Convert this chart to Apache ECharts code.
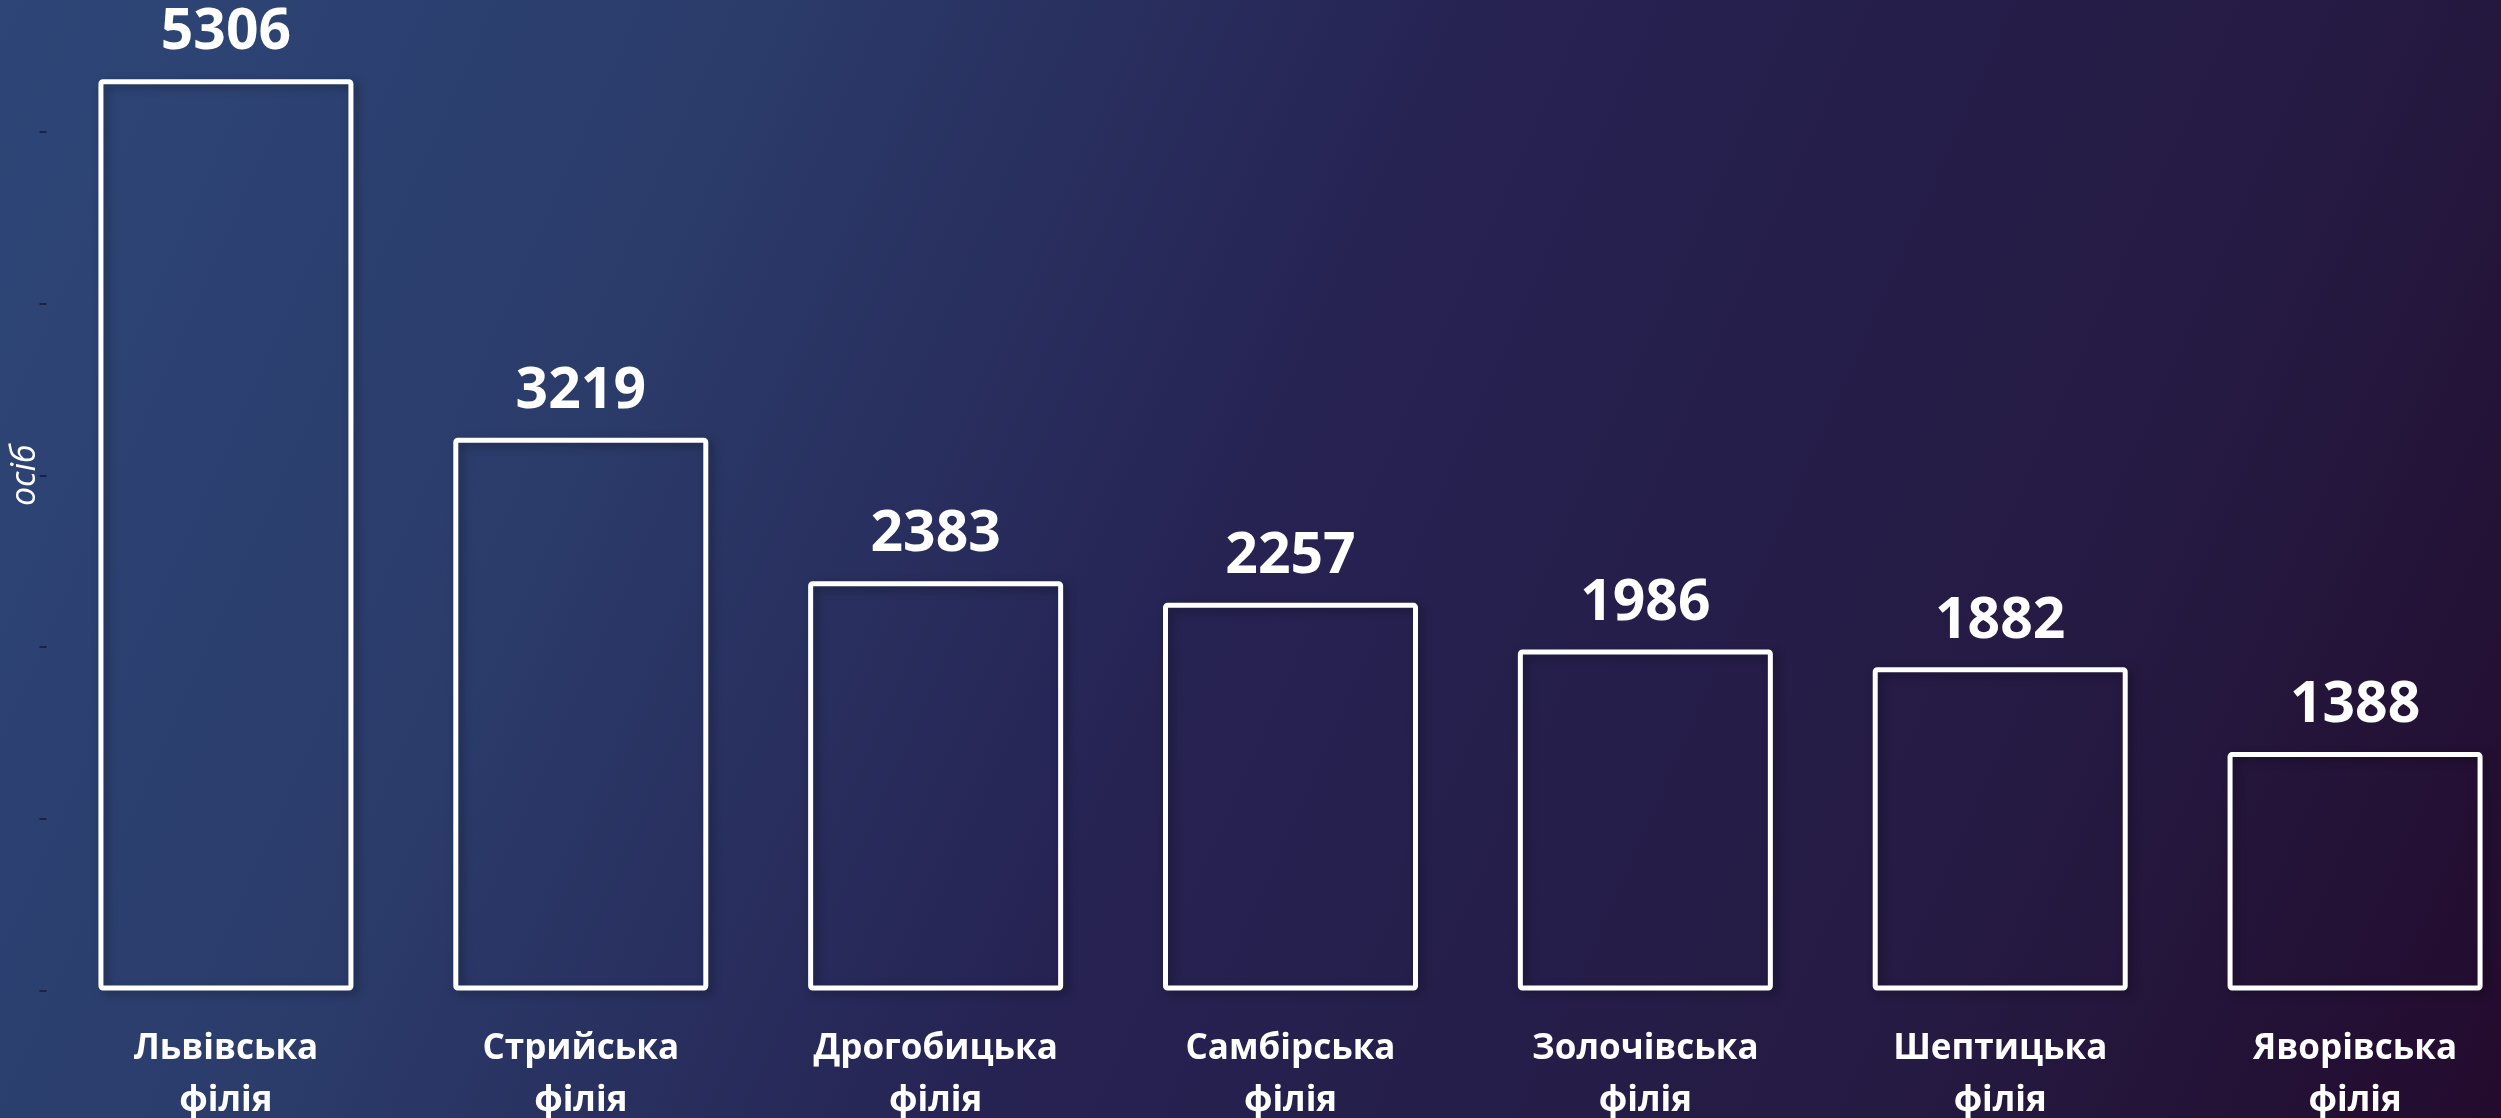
<!DOCTYPE html>
<html>
<head>
<meta charset="utf-8">
<title>Філії</title>
<script src="https://cdn.jsdelivr.net/npm/echarts@6/dist/echarts.min.js"></script>
<style>
    html, body { margin: 0; padding: 0; background: #2a3566; }
    #main { width: 2501px; height: 1118px; }
</style>
</head>
<body>
<div id="main"></div>
<script>
// категорії та значення (осіб)
var categories = [
    "Львівська\nфілія",
    "Стрийська\nфілія",
    "Дрогобицька\nфілія",
    "Самбірська\nфілія",
    "Золочівська\nфілія",
    "Шептицька\nфілія",
    "Яворівська\nфілія"
];
var values = [5306, 3219, 2383, 2257, 1986, 1882, 1388];
var yMin = 0;
var yMax = 6000;
var yStep = 1000;
var yName = "осіб";

var mychart = echarts.init(document.getElementById("main"));

var option = {
    backgroundColor: new echarts.graphic.LinearGradient(0, 0, 1, 1, [
        { offset: 0, color: "#2d4677" },
        { offset: 0.25, color: "#2b3c6b" },
        { offset: 0.5, color: "#262252" },
        { offset: 0.8, color: "#251a42" },
        { offset: 1, color: "#230b2d" }
    ]),
    animation: false,
    grid: {
        left: 48.5,
        width: 2484,
        top: -40,
        bottom: 127.5,
        containLabel: false,
        outerBoundsMode: "none" // v6 otherwise shrinks the grid
    },
    xAxis: {
        type: "category",
        data: categories,
        axisLine: { show: false },
        axisTick: { show: false },
        axisLabel: {
            interval: 0,
            margin: 33,
            color: "#fff",
            fontFamily: "Open Sans",
            fontWeight: "bold",
            fontSize: 35,
            lineHeight: 52
        }
    },
    yAxis: {
        type: "value",
        min: yMin,
        max: yMax,
        interval: yStep,
        offset: 2,
        name: yName,
        nameLocation: "middle",
        nameGap: 4,
        nameTextStyle: {
            color: "#fff",
            fontFamily: "Open Sans",
            fontStyle: "italic",
            fontSize: 34
        },
        axisLine: { show: false },
        axisLabel: { show: false },
        splitLine: { show: false },
        axisTick: {
            show: true,
            length: 7,
            lineStyle: {
                color: "#1b2247",
                width: 2
            }
        }
    },
    series: [{
        type: "bar",
        data: values,
        barWidth: 255,
        itemStyle: {
            color: "rgba(0,0,0,0)",
            borderColor: "#ffffff",
            borderWidth: 5,
            borderRadius: 2,
            shadowColor: "rgba(0,0,0,0.35)",
            shadowBlur: 10,
            shadowOffsetX: 4,
            shadowOffsetY: 3
        },
        label: {
            show: true,
            position: "top",
            distance: 17,
            color: "#fff",
            fontFamily: "Open Sans",
            fontWeight: "bold",
            fontSize: 57,
            lineHeight: 58
        }
    }]
};

mychart.setOption(option);
</script>
</body>
</html>
